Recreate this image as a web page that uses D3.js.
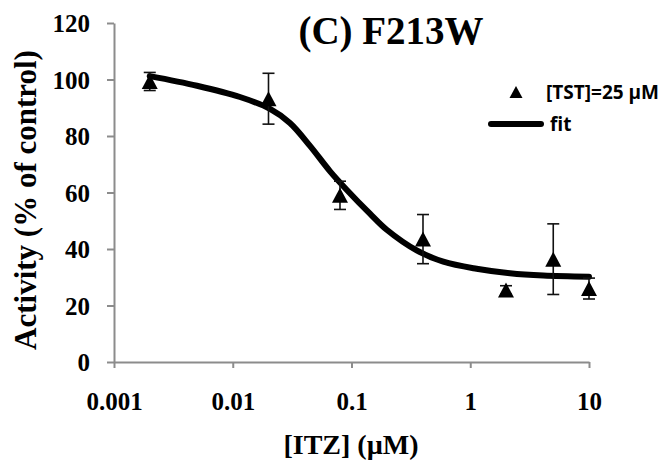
<!DOCTYPE html>
<html>
<head>
<meta charset="utf-8">
<script src="https://cdn.jsdelivr.net/npm/d3@7"></script>
<style>
  html, body { margin: 0; padding: 0; background: #fff; }
  svg { display: block; }
  .legend-text { font-family: 'Open Sans', 'Noto Sans', sans-serif; font-weight: 700; font-size: 19px; }
</style>
</head>
<body>
<svg id="chart" width="671" height="461"></svg>
<script>
// ---- data ----
const concentrations = [0.002, 0.02, 0.08, 0.4, 2, 5, 10];
const activity = [99.3, 93.2, 59, 43.5, 25.5, 36.4, 26];
const errors = [3.2, 9, 5, 8.7, 1.5, 12.5, 3.7];

const fitConc = [0.002, 0.005, 0.0115, 0.0206, 0.0303, 0.0447, 0.066, 0.091, 0.143, 0.198, 0.354, 0.593, 1.13, 2.16, 4.12, 10];
const fitActivity = [101.2, 97.8, 93.8, 89.6, 84.6, 76.5, 67.5, 61, 52.5, 46.8, 39.5, 35.5, 33, 31.4, 30.6, 30.2];

const xTicks = [0.001, 0.01, 0.1, 1, 10];
const xTickLabels = ["0.001", "0.01", "0.1", "1", "10"];
const yTicks = [0, 20, 40, 60, 80, 100, 120];

const title = "(C) F213W";
const xTitle = "[ITZ] (\u00B5M)";
const yTitle = "Activity (% of control)";
const legendLabels = ["[TST]=25 \u00B5M", "fit"];

// ---- layout ----
const svg = d3.select("#chart");
const x = d3.scaleLog().domain([0.001, 10]).range([114, 589]);
const y = d3.scaleLinear().domain([0, 120]).range([362, 23]);
const serif = "'Liberation Serif', 'Times New Roman', serif";
const axisColor = "#8c8c8c";

// y axis
const yAxis = svg.append("g")
  .attr("transform", `translate(${x.range()[0]},0)`)
  .call(d3.axisLeft(y).tickValues(yTicks).tickSize(7).tickPadding(17).tickSizeOuter(0));
// x axis
const xAxis = svg.append("g")
  .attr("transform", `translate(0,${y(0)})`)
  .call(d3.axisBottom(x).tickValues(xTicks).tickFormat((d, i) => xTickLabels[i]).tickSize(6).tickPadding(24).tickSizeOuter(0));

[yAxis, xAxis].forEach(g => {
  g.select(".domain").attr("stroke", axisColor).attr("stroke-width", 2);
  g.selectAll(".tick line").attr("stroke", axisColor).attr("stroke-width", 2);
  g.selectAll(".tick text")
    .attr("fill", "#000")
    .style("font-family", serif)
    .style("font-weight", "bold")
    .style("font-size", "25px");
});
yAxis.selectAll(".tick text").attr("dy", "0.34em");
xAxis.selectAll(".tick text").attr("dy", "0.72em");

// fit curve
const line = d3.line()
  .x((d, i) => x(fitConc[i]))
  .y((d, i) => y(fitActivity[i]))
  .curve(d3.curveCatmullRom.alpha(0.5));
svg.append("path")
  .datum(fitActivity)
  .attr("d", line)
  .attr("fill", "none")
  .attr("stroke", "#000")
  .attr("stroke-width", 6)
  .attr("stroke-linecap", "round")
  .attr("stroke-linejoin", "round");

// error bars
const eb = svg.append("g").attr("stroke", "#111").attr("stroke-width", 1.6);
concentrations.forEach((c, i) => {
  const cx = x(c), top = y(activity[i] + errors[i]), bot = y(activity[i] - errors[i]);
  eb.append("line").attr("x1", cx).attr("x2", cx).attr("y1", top).attr("y2", bot);
  eb.append("line").attr("x1", cx - 6).attr("x2", cx + 6).attr("y1", top).attr("y2", top);
  eb.append("line").attr("x1", cx - 6).attr("x2", cx + 6).attr("y1", bot).attr("y2", bot);
});

// triangle markers
function tri(w, h) {
  return `M0,${-h / 2}L${w / 2},${h / 2}L${-w / 2},${h / 2}Z`;
}
svg.append("g").selectAll("path")
  .data(activity)
  .join("path")
  .attr("d", tri(16, 15))
  .attr("transform", (d, i) => `translate(${x(concentrations[i])},${y(d)})`)
  .attr("fill", "#000");

// title
svg.append("text")
  .attr("x", 391).attr("y", 44)
  .attr("text-anchor", "middle")
  .style("font-family", serif).style("font-weight", "bold").style("font-size", "39px")
  .text(title);

// axis titles
svg.append("text")
  .attr("x", 351).attr("y", 454)
  .attr("text-anchor", "middle")
  .style("font-family", serif).style("font-weight", "bold").style("font-size", "28px")
  .text(xTitle);
svg.append("text")
  .attr("transform", "translate(36,200) rotate(-90)")
  .attr("text-anchor", "middle")
  .style("font-family", serif).style("font-weight", "bold").style("font-size", "31px")
  .text(yTitle);

// legend
const lg = svg.append("g");
lg.append("path").attr("d", tri(13, 12)).attr("transform", "translate(516,92)").attr("fill", "#000");
lg.append("text").attr("class", "legend-text").attr("x", 546).attr("y", 99)
  .text(legendLabels[0]);
lg.append("line").attr("x1", 491).attr("x2", 541).attr("y1", 124).attr("y2", 124)
  .attr("stroke", "#000").attr("stroke-width", 6).attr("stroke-linecap", "round");
lg.append("text").attr("class", "legend-text").attr("x", 550).attr("y", 131)
  .text(legendLabels[1]);
</script>
</body>
</html>
